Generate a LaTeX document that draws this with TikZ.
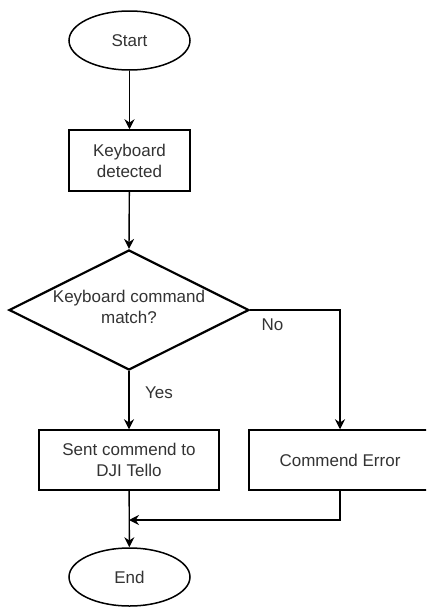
\documentclass[tikz,border=0pt]{standalone}
\usepackage{fontspec}
\setmainfont{Liberation Sans}
\usetikzlibrary{shapes.geometric,arrows.meta}
\begin{document}
\begin{tikzpicture}[x=1pt,y=-1pt,
  every node/.style={font=\fontsize{17}{21}\selectfont, text=black!80, align=center},
  term/.style={draw, ellipse, line width=1.5pt, minimum width=121pt, minimum height=59pt, inner sep=0pt},
  proc/.style={draw, rectangle, line width=1.5pt, minimum height=61pt, inner sep=0pt},
  dec/.style={draw, diamond, line width=2.2pt, minimum width=240pt, minimum height=120pt, inner sep=0pt},
  conn/.style={line width=1.4pt, -{Stealth[length=10pt,width=10pt]}},
  lab/.style={font=\fontsize{17}{21}\selectfont}
]
\useasboundingbox (0,0) rectangle (426,608);
\clip (0,0) rectangle (426,608);
\fill[white] (0,0) rectangle (426,608);
\node[term] (start) at (129.5,40.5) {Start};
\node[proc, minimum width=121pt] (kd) at (129.5,160.5) {Keyboard\\detected};
\node[dec] (dec) at (129,310) {};
\node (dect) at (129,307) {Keyboard command\\match?};
\node[proc, minimum width=180pt, minimum height=60pt] (sent) at (129,460) {Sent commend to\\DJI Tello};
\node[proc, minimum width=182pt, minimum height=60pt] (err) at (340,460) {Commend Error};
\node[term, minimum width=121pt, minimum height=58pt] (end) at (129.5,577) {End};
\coordinate (m) at (129,520);
\draw[conn] (start) -- (kd);
\draw[conn] (kd) -- (dec.north);
\draw[conn] (dec.south) -- (sent) node[lab, pos=0.38, right=12pt] {Yes};
\draw[conn] (dec.east) -| (err.north) node[lab, pos=0.125, below=5pt] {No};
\draw[conn] (sent) -- (end);
\draw[conn] (err.south) |- (m);
\end{tikzpicture}
\end{document}
